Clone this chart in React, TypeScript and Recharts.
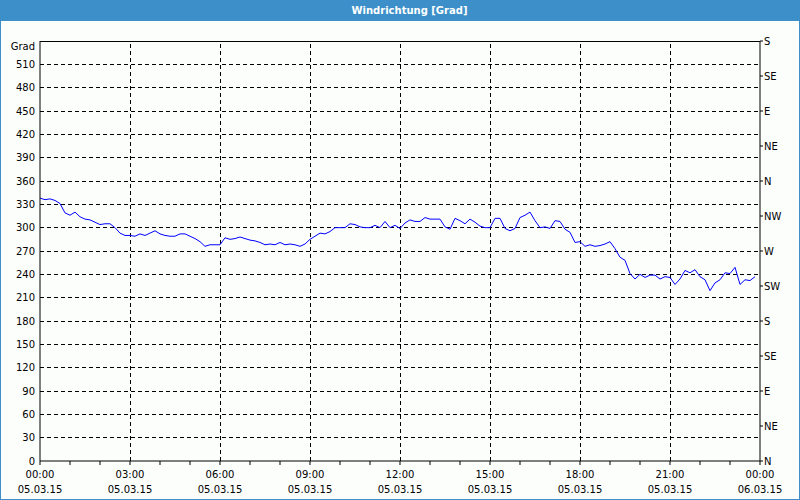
import React from 'react';
import { LineChart, Line, XAxis, YAxis, ReferenceLine } from 'recharts';

// wind direction in degrees, one value every 10 minutes from 05.03.15 00:00
const directionValues = [
  338, 336, 337, 335, 331, 319, 316, 320, 314, 311, 310, 307,
  304, 305, 305, 300, 293, 290, 290, 289, 292, 290, 293, 296,
  292, 290, 289, 289, 292, 292, 289, 286, 282, 276, 278, 278,
  278, 287, 285, 286, 288, 286, 284, 283, 281, 278, 279, 278,
  281, 278, 279, 278, 276, 279, 285, 289, 293, 292, 295, 300,
  300, 300, 305, 304, 301, 300, 300, 303, 300, 308, 300, 303,
  299, 306, 310, 308, 308, 313, 311, 311, 311, 301, 298, 312,
  309, 305, 311, 307, 302, 300, 300, 312, 312, 299, 296, 299,
  313, 316, 320, 309, 300, 301, 299, 309, 308, 298, 294, 281,
  282, 276, 278, 276, 277, 279, 282, 273, 262, 258, 241, 234,
  240, 236, 239, 239, 234, 237, 236, 227, 234, 245, 242, 246,
  237, 233, 219, 229, 233, 242, 241, 249, 227, 233, 232, 237,
];
const sampleStepMinutes = 10;

const hourTicks = [0, 60, 120, 180, 240, 300, 360, 420, 480, 540, 600, 660, 720, 780, 840, 900, 960, 1020, 1080, 1140, 1200, 1260, 1320, 1380, 1440];
const majorTicks = [0, 180, 360, 540, 720, 900, 1080, 1260, 1440];
const timeLabels = ['00:00', '03:00', '06:00', '09:00', '12:00', '15:00', '18:00', '21:00', '00:00'];
const dateLabels = ['05.03.15', '05.03.15', '05.03.15', '05.03.15', '05.03.15', '05.03.15', '05.03.15', '05.03.15', '06.03.15'];

const degreeTicks = [0, 30, 60, 90, 120, 150, 180, 210, 240, 270, 300, 330, 360, 390, 420, 450, 480, 510, 540];
const compassTicks = [0, 45, 90, 135, 180, 225, 270, 315, 360, 405, 450, 495, 540];
const compassLabels = ['N', 'NE', 'E', 'SE', 'S', 'SW', 'W', 'NW', 'N', 'NE', 'E', 'SE', 'S'];

const data = directionValues.map((v, i) => ({ t: i * sampleStepMinutes, v }));

const FONT = 'DejaVu Sans';
const BLUE = '#3c8fc8';

const XTick = (props: any) => {
  const { x, y, payload } = props;
  const idx = majorTicks.indexOf(payload.value);
  if (idx < 0) return <g />;
  return (
    <g>
      <text x={x} y={y + 11} textAnchor="middle" fontSize={10} fontFamily={FONT} fill="#000">
        {timeLabels[idx]}
      </text>
      <text x={x} y={y + 26} textAnchor="middle" fontSize={10} fontFamily={FONT} fill="#000">
        {dateLabels[idx]}
      </text>
    </g>
  );
};

const LeftTick = (props: any) => {
  const { x, y, payload } = props;
  const isTop = payload.value === 540;
  return (
    <text x={x} y={y + (isTop ? 5 : 0)} dy="0.355em" textAnchor="end" fontSize={10} fontFamily={FONT} fill="#000">
      {isTop ? 'Grad' : String(payload.value)}
    </text>
  );
};

export default function App() {
  return (
    <div style={{ position: 'absolute', left: 0, top: 0, width: 800, height: 500, background: '#fcfefc', overflow: 'hidden' }}>
      <LineChart
        width={800}
        height={500}
        data={data}
        margin={{ top: 41, right: 0, left: 0, bottom: 0 }}
        style={{ position: 'absolute', left: 0, top: 0 }}
      >
        <XAxis
          dataKey="t"
          type="number"
          domain={[0, 1440]}
          ticks={hourTicks}
          interval={0}
          height={39}
          tickSize={4}
          tickMargin={2}
          tick={<XTick />}
          axisLine={{ stroke: '#000' }}
          tickLine={{ stroke: '#000' }}
          allowDataOverflow
        />
        <YAxis
          yAxisId="left"
          type="number"
          domain={[0, 540]}
          ticks={degreeTicks}
          interval={0}
          width={40}
          tickSize={0}
          tickMargin={5}
          tickLine={false}
          tick={<LeftTick />}
          axisLine={{ stroke: '#000' }}
          allowDataOverflow
        />
        <YAxis
          yAxisId="right"
          orientation="right"
          type="number"
          domain={[0, 540]}
          ticks={compassTicks}
          interval={0}
          width={40}
          tickSize={3}
          tickMargin={1}
          tickFormatter={(v: number) => compassLabels[compassTicks.indexOf(v)]}
          tick={{ fontSize: 10, fontFamily: FONT, fill: '#000', textAnchor: 'start' }}
          axisLine={{ stroke: '#000' }}
          tickLine={{ stroke: '#000' }}
          allowDataOverflow
        />
        {degreeTicks.slice(1, -1).map((v) => (
          <ReferenceLine key={'h' + v} yAxisId="left" y={v} stroke="#000" strokeDasharray="4 3" shapeRendering="crispEdges" />
        ))}
        {majorTicks.slice(1, -1).map((v) => (
          <ReferenceLine key={'v' + v} yAxisId="left" x={v} stroke="#000" strokeDasharray="4 3" shapeRendering="crispEdges" />
        ))}
        <ReferenceLine yAxisId="left" y={540} stroke="#000" shapeRendering="crispEdges" />
        <Line
          yAxisId="left"
          type="linear"
          dataKey="v"
          stroke="#0000ff"
          strokeWidth={1}
          dot={false}
          activeDot={false}
          isAnimationActive={false}
        />
      </LineChart>
      <div
        style={{
          position: 'absolute', left: 0, top: 0, width: 800, height: 21, background: BLUE,
          color: '#fff', fontFamily: FONT, fontWeight: 'bold', fontSize: 10, lineHeight: '21px',
          textAlign: 'center', paddingLeft: 19, boxSizing: 'border-box',
        }}
      >
        Windrichtung [Grad]
      </div>
      <div
        style={{
          position: 'absolute', left: 0, top: 0, width: 800, height: 500,
          border: '1px solid ' + BLUE, boxSizing: 'border-box', pointerEvents: 'none',
        }}
      />
    </div>
  );
}
